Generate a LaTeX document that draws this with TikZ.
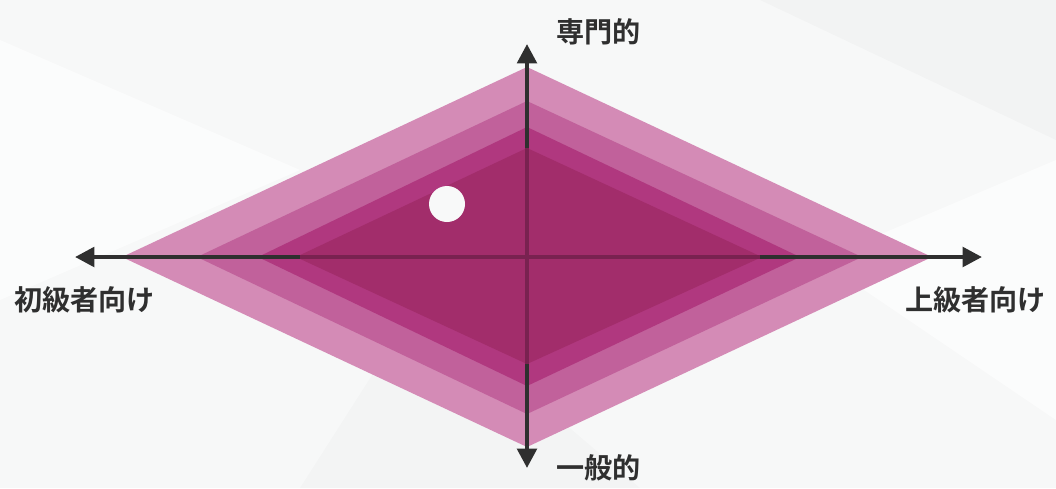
\documentclass[tikz,border=0pt]{standalone}
\usepackage{fontspec}
\newfontfamily\jpfont{Noto Sans CJK JP}[BoldFont={* Bold}]
\usetikzlibrary{arrows.meta}
\definecolor{bgcol}{HTML}{F7F8F8}
\definecolor{layerA}{HTML}{D48BB6}
\definecolor{layerB}{HTML}{C1619B}
\definecolor{layerC}{HTML}{B0387F}
\definecolor{layerD}{HTML}{A22D6B}
\definecolor{axiscol}{HTML}{2F2F2F}
\tikzset{
  axisline/.style={line width=2.4pt,axiscol,-{Triangle[length=11pt,width=11pt]}},
  axislabel/.style={font=\jpfont\bfseries\fontsize{16}{18}\selectfont,text=axiscol,inner sep=0pt},
}

\begin{document}
\begin{tikzpicture}[x=0.02cm,y=-0.02cm]
			\fill[bgcol] (0,0) rectangle (1056,488);
			\useasboundingbox (0,0) rectangle (1056,488);
			% faint background shapes
			\fill[white,opacity=0.6] (0,40) -- (300,170) -- (0,300) -- cycle;
			\fill[black,opacity=0.02] (760,0) -- (1056,0) -- (1056,140) -- cycle;
			\fill[white,opacity=0.6] (1056,160) -- (820,260) -- (1056,420) -- cycle;
			\fill[black,opacity=0.015] (300,488) -- (420,300) -- (640,488) -- cycle;
			
			\coordinate (C) at (527,257);
			% stacked diamonds
			\fill[layerA] (122,257) -- (527,67) -- (932,257) -- (527,447) -- cycle;
			\fill[layerB] (197,257) -- (527,101) -- (862,257) -- (527,414) -- cycle;
			\fill[layerC] (258,257) -- (527,127) -- (800,257) -- (527,386) -- cycle;
			\fill[layerD] (296,257) -- (527,148) -- (762,257) -- (527,364) -- cycle;
			
			% faint axes inside the inner diamond
			\draw[line width=2pt,black!25!layerD] (296,257) -- (762,257);
			\draw[line width=2pt,black!25!layerD] (527,148) -- (527,364);
			
			\coordinate (Nin) at (527,148);
			\coordinate (Sin) at (527,364);
			\coordinate (Win) at (300,257);
			\coordinate (Ein) at (760,257);
			\coordinate (Ntip) at (527,44);
			\coordinate (Stip) at (527,468);
			\coordinate (Wtip) at (75,257);
			\coordinate (Etip) at (982,257);
			
			\draw[axisline] (Nin)--(Ntip);
			\draw[axisline] (Sin)--(Stip);
			\draw[axisline] (Win)--(Wtip);
			\draw[axisline] (Ein)--(Etip);
			
			\node[axislabel,anchor=west] (senmon) at (556,32) {専門的};
			\node[axislabel,anchor=west] (ippan) at (556,468) {一般的};
			\node[axislabel,anchor=west] (shokyu) at (14,300) {初級者向け};
			\node[axislabel,anchor=east] (jokyu) at (1046,300) {上級者向け};
			
			\filldraw[fill=bgcol!90!white,draw=none] (447,204) circle (18);
		\end{tikzpicture}
\end{document}
